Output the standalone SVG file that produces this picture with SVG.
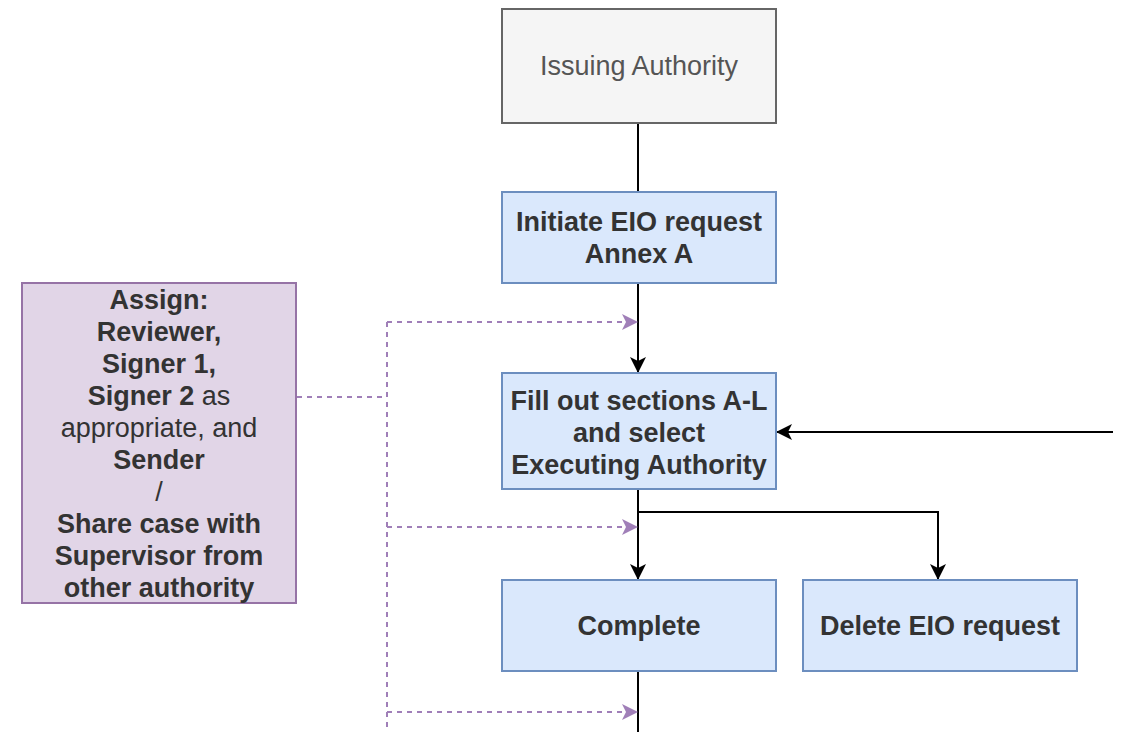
<svg xmlns="http://www.w3.org/2000/svg" width="1122" height="732" viewBox="0 0 1122 732">
<style>
.t{font-family:"Liberation Sans",Arial,sans-serif;font-size:27px;fill:#333;text-anchor:middle}
.b{font-weight:bold}
.g{fill:#555}
.blue{fill:#dae8fc;stroke:#6c8ebf;stroke-width:2}
.edge{fill:none;stroke:#000;stroke-width:2}
.dash{fill:none;stroke:#a07fb8;stroke-width:2;stroke-dasharray:5 5}
</style>
<defs>
<marker id="ab" viewBox="0 0 16 16" refX="15" refY="8" markerWidth="16" markerHeight="16" markerUnits="userSpaceOnUse" orient="auto">
<path d="M0,0 L16,8 L0,16 L4,8 Z" fill="#000"/>
</marker>
<marker id="ap" viewBox="0 0 16 16" refX="15" refY="8" markerWidth="16" markerHeight="16" markerUnits="userSpaceOnUse" orient="auto">
<path d="M0,0 L16,8 L0,16 L4,8 Z" fill="#a07fb8"/>
</marker>
</defs>
<rect width="1122" height="732" fill="#fff"/>
<g id="connectors">
<path class="edge" d="M638,123 V192"/>
<path class="edge" d="M638,283 V372" marker-end="url(#ab)"/>
<path class="edge" d="M638,489 V579" marker-end="url(#ab)"/>
<path class="edge" d="M638,512 H938 V579" marker-end="url(#ab)"/>
<path class="edge" d="M1113,432 H777" marker-end="url(#ab)"/>
<path class="edge" d="M638,671 V732"/>
<path class="dash" d="M297,397 H387"/>
<path class="dash" d="M387,322 V732"/>
<path class="dash" d="M387,322 H637" marker-end="url(#ap)"/>
<path class="dash" d="M387,527 H637" marker-end="url(#ap)"/>
<path class="dash" d="M387,712 H637" marker-end="url(#ap)"/>
</g>
<g id="issuing">
<rect x="502" y="9" width="274" height="114" fill="#f5f5f5" stroke="#666" stroke-width="2"/>
<text class="t g" x="639" y="75">Issuing Authority</text>
</g>
<g id="initiate">
<rect class="blue" x="502" y="192" width="274" height="91"/>
<text class="t b" x="639" y="231">Initiate EIO request</text>
<text class="t b" x="639" y="263">Annex A</text>
</g>
<g id="fillout">
<rect class="blue" x="502" y="373" width="274" height="116"/>
<text class="t b" x="639" y="410">Fill out sections A-L</text>
<text class="t b" x="639" y="442">and select</text>
<text class="t b" x="639" y="474">Executing Authority</text>
</g>
<g id="complete">
<rect class="blue" x="502" y="580" width="274" height="91"/>
<text class="t b" x="639" y="635">Complete</text>
</g>
<g id="delete">
<rect class="blue" x="803" y="580" width="274" height="91"/>
<text class="t b" x="940" y="635">Delete EIO request</text>
</g>
<g id="assign">
<rect x="22" y="283" width="274" height="320" fill="#e1d5e7" stroke="#9673a6" stroke-width="2"/>
<text class="t b" x="159" y="309">Assign:</text>
<text class="t b" x="159" y="341">Reviewer,</text>
<text class="t b" x="159" y="373">Signer 1,</text>
<text class="t" x="159" y="405"><tspan class="b">Signer 2</tspan> as</text>
<text class="t" x="159" y="437">appropriate, and</text>
<text class="t b" x="159" y="469">Sender</text>
<text class="t" x="159" y="501">/</text>
<text class="t b" x="159" y="533">Share case with</text>
<text class="t b" x="159" y="565">Supervisor from</text>
<text class="t b" x="159" y="597">other authority</text>
</g>
</svg>
